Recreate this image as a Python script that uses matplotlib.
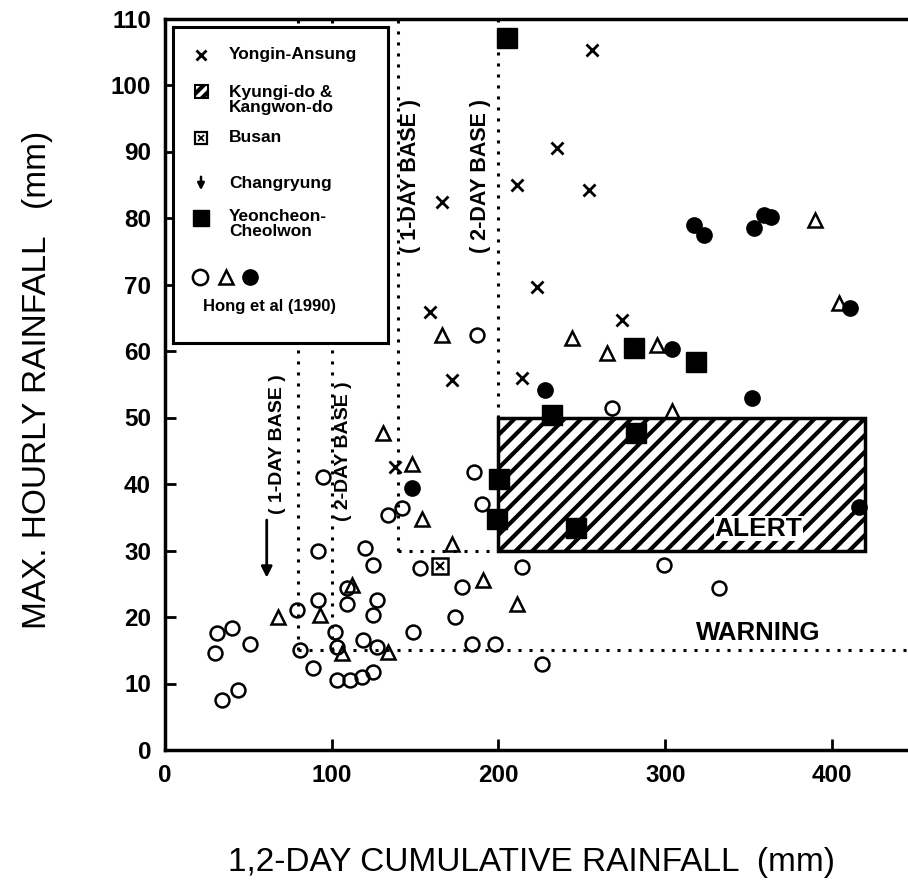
import matplotlib
matplotlib.use("Agg")
import matplotlib.pyplot as plt
from matplotlib.patches import Rectangle

plt.rcParams['font.family'] = ['Liberation Sans', 'DejaVu Sans']
plt.rcParams['hatch.linewidth'] = 3.0

# --- data (x: 1,2-day cumulative rainfall, y: max hourly rainfall) ---
yongin_x = [256, 235, 254, 211, 166, 223, 159, 172, 274, 214, 138, 259]
yongin_y = [105.3, 90.5, 84.2, 85, 82.4, 69.6, 65.9, 55.6, 64.7, 56, 42.6, 33.5]

busan_x = [165]
busan_y = [27.7]

changryung_x = [61]
changryung_top = [35]
changryung_tip = [25.5]

yeoncheon_x = [205, 232, 281.4, 318.6, 282.6, 200.6, 199, 246.7]
yeoncheon_y = [107, 50.4, 60.4, 58.4, 47.7, 40.7, 34.7, 33.4]

hong_circle_x = [31, 40, 51, 30, 34, 44, 79, 92, 92, 81, 89, 94.6, 102, 103, 103, 111,
                 118, 124.5, 109, 109, 120, 124.5, 127, 124.5, 118.5, 127, 133.5, 142,
                 152.7, 178, 174, 184, 198, 149, 185.6, 190, 214, 226, 187, 299, 332,
                 268, 271]
hong_circle_y = [17.6, 18.3, 16, 14.6, 7.5, 9, 21, 30, 22.5, 15, 12.3, 41, 17.7, 15.5,
                 10.5, 10.5, 11, 11.7, 24.4, 22, 30.4, 27.8, 22.5, 20.3, 16.5, 15.5, 35.3,
                 36.4, 27.4, 24.5, 20, 16, 16, 17.7, 41.8, 37, 27.5, 13, 62.4, 27.8, 24.4,
                 51.4, 37]

hong_tri_x = [68, 93, 106, 112, 133.5, 130.5, 148, 154, 172, 166, 191, 211, 244, 265,
              295, 390, 404, 304, 268, 302, 349, 288.6, 290, 237, 226]
hong_tri_y = [20, 20.3, 14.6, 24.8, 14.7, 47.6, 43, 34.8, 31, 62.4, 25.6, 22, 62, 59.7,
              60.9, 79.7, 67.2, 51, 49, 46.3, 46.6, 36, 33.3, 43, 33]

hong_dot_x = [148, 228, 304, 317, 323, 353, 359, 363.5, 352, 411, 416]
hong_dot_y = [39.4, 54.1, 60.3, 78.9, 77.4, 78.5, 80.4, 80.2, 53, 66.5, 36.5]

# thresholds
early_1day = 80
early_2day = 100
warning_level = 15
base_1day = 140
base_2day = 200
alert_low, alert_high = 30, 50
alert_right = 420

W, H = 908, 890
fig = plt.figure(figsize=(W / 100, H / 100), dpi=100)
ax = fig.add_axes([165 / W, 1 - 750 / H, (W - 165) / W, (750 - 18.5) / H])
ax.set_xlim(0, 445.6)
ax.set_ylim(0, 110)

dot = dict(color='black', lw=2.2, linestyle=(0, (1, 2.6)), zorder=1)
ax.plot([early_1day, early_1day], [warning_level, 110], **dot)
ax.plot([early_2day, early_2day], [warning_level, 110], **dot)
ax.plot([early_1day, 445.6], [warning_level, warning_level], **dot)
ax.plot([base_1day, base_1day], [alert_low, 110], **dot)
ax.plot([base_1day, base_2day], [alert_low, alert_low], **dot)
ax.plot([base_2day, base_2day], [alert_high, 110], **dot)

# open markers (partly knocked out by the hatched box)
ax.plot(hong_circle_x, hong_circle_y, 'o', ms=10, mfc='none', mec='black', mew=1.8, zorder=2)
ax.plot(hong_tri_x, hong_tri_y, '^', ms=10, mfc='none', mec='black', mew=1.8, zorder=2)
ax.plot(yongin_x, yongin_y, 'x', ms=8, mec='black', mew=2, zorder=2)

ax.add_patch(Rectangle((base_2day, alert_low), alert_right - base_2day, alert_high - alert_low,
                       facecolor='white', edgecolor='black', hatch='//', lw=2.5, zorder=3))

ax.plot(hong_dot_x, hong_dot_y, 'o', ms=11, color='black', zorder=4)
ax.plot(yeoncheon_x, yeoncheon_y, 's', ms=14, color='black', zorder=4)
ax.plot(busan_x, busan_y, 's', ms=11, mfc='white', mec='black', mew=1.8, zorder=4)
ax.plot(busan_x, busan_y, 'x', ms=6, mec='black', mew=1.5, zorder=4)
for x, y0, y1 in zip(changryung_x, changryung_top, changryung_tip):
    ax.annotate('', xy=(x, y1), xytext=(x, y0),
                arrowprops=dict(arrowstyle='-|>', color='black', lw=2, mutation_scale=16))

ax.text(67.5, 46, '( 1-DAY BASE )', rotation=90, ha='center', va='center',
        fontsize=14, fontweight='bold')
ax.text(107, 45, '( 2-DAY BASE )', rotation=90, ha='center', va='center',
        fontsize=14, fontweight='bold')
ax.text(147, 86.3, '( 1-DAY BASE )', rotation=90, ha='center', va='center',
        fontsize=15.5, fontweight='bold')
ax.text(189, 86.3, '( 2-DAY BASE )', rotation=90, ha='center', va='center',
        fontsize=15.5, fontweight='bold')
ax.text(356, 33.3, 'ALERT', ha='center', va='center', fontsize=19, fontweight='bold',
        zorder=5, bbox=dict(facecolor='white', edgecolor='none', pad=0.5))
ax.text(356, 17.6, 'WARNING', ha='center', va='center', fontsize=18.5, fontweight='bold')

ax.set_xticks([0, 100, 200, 300, 400])
ax.set_yticks(range(0, 111, 10))
ax.tick_params(direction='in', length=8, width=2, labelsize=17.5, pad=10)
for lab in ax.get_xticklabels() + ax.get_yticklabels():
    lab.set_fontweight('bold')
ax.spines['right'].set_visible(False)
for s in ['left', 'bottom', 'top']:
    ax.spines[s].set_linewidth(2.5)

fig.text(531 / W, 1 - 862 / H, '1,2-DAY CUMULATIVE RAINFALL  (mm)', ha='center',
         va='center', fontsize=24)
fig.text(38 / W, 1 - 380 / H, 'MAX. HOURLY RAINFALL   (mm)', rotation=90, ha='center',
         va='center', fontsize=24)

# legend box, drawn in pixel units
lg = fig.add_axes([173 / W, 1 - 343 / H, 215 / W, 316 / H], zorder=5)
lg.set_xlim(173, 388)
lg.set_ylim(343, 27)
lg.set_xticks([])
lg.set_yticks([])
for s in lg.spines.values():
    s.set_linewidth(2.2)
lf = dict(fontsize=12.5, fontweight='bold', va='center', linespacing=1.05)
lg.plot([201], [55], 'x', ms=7, mec='black', mew=2)
lg.text(229, 55, 'Yongin-Ansung', **lf)
lg.add_patch(Rectangle((195, 85), 13, 13, facecolor='white', edgecolor='black', hatch='///', lw=1.5))
lg.text(229, 100, 'Kyungi-do &\nKangwon-do', **lf)
lg.plot([201], [138], 's', ms=9, mfc='white', mec='black', mew=1.6)
lg.plot([201], [138], 'x', ms=5, mec='black', mew=1.3)
lg.text(229, 138, 'Busan', **lf)
lg.annotate('', xy=(201, 193), xytext=(201, 174),
            arrowprops=dict(arrowstyle='-|>', color='black', lw=1.8, mutation_scale=10))
lg.text(229, 183, 'Changryung', **lf)
lg.plot([201], [218], 's', ms=11, color='black')
lg.text(229, 224, 'Yeoncheon-\nCheolwon', **lf)
lg.plot([200], [277], 'o', ms=11, mfc='none', mec='black', mew=1.8)
lg.plot([226], [277], '^', ms=10, mfc='none', mec='black', mew=1.8)
lg.plot([250], [277], 'o', ms=11, color='black')
lg.text(203, 306, 'Hong et al (1990)', fontsize=12, fontweight='bold', va='center')

fig.savefig('out.png', dpi=100)
